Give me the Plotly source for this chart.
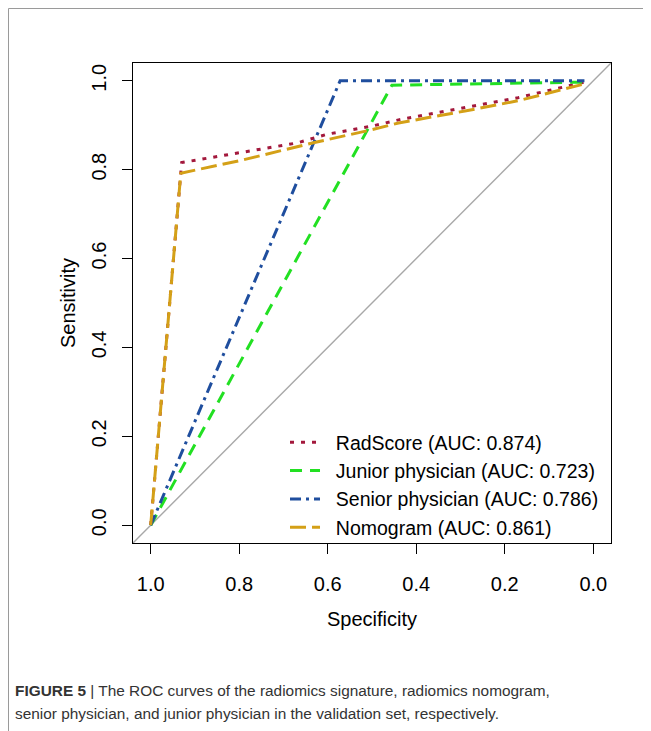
import plotly.graph_objects as go

# ---- data ----
tick_vals = [0.0, 0.2, 0.4, 0.6, 0.8, 1.0]
tick_text = ["0.0", "0.2", "0.4", "0.6", "0.8", "1.0"]

rad_spec = [1.0, 0.93, 0.80, 0.67, 0.60, 0.50, 0.44, 0.29, 0.17, 0.02]
rad_sens = [0.0, 0.816, 0.838, 0.860, 0.880, 0.898, 0.912, 0.940, 0.962, 0.997]

junior_spec = [1.0, 0.455, 0.02]
junior_sens = [0.0, 0.990, 0.997]

senior_spec = [1.0, 0.572, 0.02]
senior_sens = [0.0, 1.0, 1.0]

nomo_spec = [1.0, 0.932, 0.80, 0.63, 0.50, 0.44, 0.29, 0.17, 0.02]
nomo_sens = [0.0, 0.792, 0.820, 0.861, 0.890, 0.905, 0.932, 0.955, 0.993]

diag_spec = [1.04, -0.04]
diag_sens = [-0.04, 1.04]

names = ["RadScore (AUC: 0.874)", "Junior physician (AUC: 0.723)",
         "Senior physician (AUC: 0.786)", "Nomogram (AUC: 0.861)"]
colors = ["#A3183C", "#22E022", "#1F4E9E", "#D4A017"]
dashes = ["4px,7px", "12px,8px", "11px,5px,3px,5px", "16px,6px"]

FONT = "Liberation Sans, Arial, sans-serif"
NB = "\u00a0\u00a0"

fig = go.Figure()
fig.add_trace(go.Scatter(x=diag_spec, y=diag_sens, mode="lines",
                         line=dict(color="#A8A8A8", width=1.4),
                         showlegend=False, hoverinfo="skip"))
series = [(rad_spec, rad_sens), (junior_spec, junior_sens),
          (senior_spec, senior_sens), (nomo_spec, nomo_sens)]
for (sx, sy), nm, c, d in zip(series, names, colors, dashes):
    fig.add_trace(go.Scatter(x=sx, y=sy, mode="lines", name=NB + nm,
                             line=dict(color=c, width=3, dash=d)))

axis_common = dict(
    showline=True, linecolor="black", linewidth=1.3, mirror=True,
    ticks="outside", ticklen=10, tickwidth=1.3, tickcolor="black",
    showgrid=False, zeroline=False, tickvals=tick_vals, ticktext=tick_text,
    tickfont=dict(family=FONT, size=20, color="black"),
)

fig.update_layout(
    width=643, height=723,
    margin=dict(l=125, r=40, t=55, b=188),
    paper_bgcolor="white", plot_bgcolor="white",
    font=dict(family=FONT, size=20, color="black"),
    xaxis=dict(range=[1.04, -0.04], ticklabelstandoff=13, **axis_common,
               title=dict(text="Specificity", font=dict(family=FONT, size=20), standoff=17)),
    yaxis=dict(range=[-0.04, 1.04], tickangle=-90, ticklabelstandoff=8, **axis_common,
               title=dict(text="Sensitivity", font=dict(family=FONT, size=20), standoff=6)),
    legend=dict(x=0.318, y=0.25, xanchor="left", yanchor="top",
                bgcolor="rgba(0,0,0,0)", borderwidth=0,
                font=dict(family=FONT, size=19.5, color="black")),
    showlegend=True,
)

# page frame lines
fig.add_shape(type="line", xref="paper", yref="paper",
              x0=(8.5 - 133) / 478, x1=(651 - 133) / 478,
              y0=(543 - 8.5) / 480, y1=(543 - 8.5) / 480,
              line=dict(color="#9a9a9a", width=1))
fig.add_shape(type="line", xref="paper", yref="paper",
              x0=(8.5 - 133) / 478, x1=(8.5 - 133) / 478,
              y0=(543 - 8.5) / 480, y1=(543 - 731) / 480,
              line=dict(color="#9a9a9a", width=1))

# caption
fig.add_annotation(xref="paper", yref="paper", x=(13 - 133) / 478, y=(543 - 690) / 480,
                   xanchor="left", yanchor="middle", showarrow=False, align="left",
                   text="<b>FIGURE 5</b> | The ROC curves of the radiomics signature, radiomics nomogram,",
                   font=dict(family=FONT, size=15.4, color="#333333"))
fig.add_annotation(xref="paper", yref="paper", x=(13 - 133) / 478, y=(543 - 713) / 480,
                   xanchor="left", yanchor="middle", showarrow=False, align="left",
                   text="senior physician, and junior physician in the validation set, respectively.",
                   font=dict(family=FONT, size=15.4, color="#333333"))

fig.write_html("out.html")
